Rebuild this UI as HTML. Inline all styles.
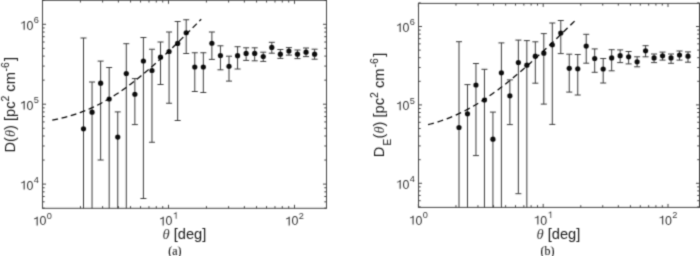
<!DOCTYPE html>
<html><head><meta charset="utf-8"><style>
html,body{margin:0;padding:0;background:#fff;width:700px;height:256px;overflow:hidden}
svg{display:block}
text{font-family:"Liberation Sans",sans-serif;fill:#1a1a1a}
</style></head><body>
<svg width="700" height="256" viewBox="0 0 700 256">
<defs><filter id="bl" filterUnits="userSpaceOnUse" x="0" y="0" width="700" height="256"><feConvolveMatrix order="3" kernelMatrix="1 4 1 4 16 4 1 4 1" edgeMode="duplicate"/></filter></defs>
<rect width="700" height="256" fill="#fff"/>
<g filter="url(#bl)">
<path d="M42.5 208.3v-3.5M42.5 0.3v3.5M80.43 208.3v-2.2M80.43 0.3v2.2M102.62 208.3v-2.2M102.62 0.3v2.2M118.36 208.3v-2.2M118.36 0.3v2.2M130.57 208.3v-2.2M130.57 0.3v2.2M140.55 208.3v-2.2M140.55 0.3v2.2M148.98 208.3v-2.2M148.98 0.3v2.2M156.29 208.3v-2.2M156.29 0.3v2.2M162.73 208.3v-2.2M162.73 0.3v2.2M168.5 208.3v-3.5M168.5 0.3v3.5M206.43 208.3v-2.2M206.43 0.3v2.2M228.62 208.3v-2.2M228.62 0.3v2.2M244.36 208.3v-2.2M244.36 0.3v2.2M256.57 208.3v-2.2M256.57 0.3v2.2M266.55 208.3v-2.2M266.55 0.3v2.2M274.98 208.3v-2.2M274.98 0.3v2.2M282.29 208.3v-2.2M282.29 0.3v2.2M288.73 208.3v-2.2M288.73 0.3v2.2M294.5 208.3v-3.5M294.5 0.3v3.5M42.5 208.15h2.2M326.5 208.15h-2.2M42.5 201.83h2.2M326.5 201.83h-2.2M42.5 196.48h2.2M326.5 196.48h-2.2M42.5 191.84h2.2M326.5 191.84h-2.2M42.5 187.76h2.2M326.5 187.76h-2.2M42.5 184.1h3.5M326.5 184.1h-3.5M42.5 160.05h2.2M326.5 160.05h-2.2M42.5 145.98h2.2M326.5 145.98h-2.2M42.5 136h2.2M326.5 136h-2.2M42.5 128.25h2.2M326.5 128.25h-2.2M42.5 121.93h2.2M326.5 121.93h-2.2M42.5 116.58h2.2M326.5 116.58h-2.2M42.5 111.94h2.2M326.5 111.94h-2.2M42.5 107.86h2.2M326.5 107.86h-2.2M42.5 104.2h3.5M326.5 104.2h-3.5M42.5 80.15h2.2M326.5 80.15h-2.2M42.5 66.08h2.2M326.5 66.08h-2.2M42.5 56.1h2.2M326.5 56.1h-2.2M42.5 48.35h2.2M326.5 48.35h-2.2M42.5 42.03h2.2M326.5 42.03h-2.2M42.5 36.68h2.2M326.5 36.68h-2.2M42.5 32.04h2.2M326.5 32.04h-2.2M42.5 27.96h2.2M326.5 27.96h-2.2M42.5 24.3h3.5M326.5 24.3h-3.5M42.5 0.25h2.2M326.5 0.25h-2.2" stroke="#444" stroke-width="1.0" fill="none"/>
<rect x="42.5" y="0.3" width="284" height="208" stroke="#444" stroke-width="1.0" fill="none"/>
<path d="M83.5 38V208.3M92.06 82V208.3M100.62 61.1V160M109.18 67.5V208.3M117.74 111.9V208.3M126.3 43.7V208.3M134.86 78.6V124.6M143.41 37.5V198.5M151.97 49.25V142.25M160.53 42V84.5M169.09 32V103.25M177.65 21.5V120.5M186.21 19.75V53.5M194.77 52.75V91.5M203.33 52.75V92.5M211.89 32V59.4M220.45 45.8V69.8M229.01 56.2V81.1M237.57 46.7V69M246.13 47.8V60.4M254.69 47.8V60.8M263.24 52.2V61.4M271.8 42.3V53.2M280.36 49.5V58.4M288.92 47.6V55.1M297.48 50V58.6M306.04 48V56.6M314.6 49.2V59.2M80.5 38h6.0M89.06 82h6.0M97.62 61.1h6.0M97.62 160h6.0M106.18 67.5h6.0M114.74 111.9h6.0M123.3 43.7h6.0M131.86 78.6h6.0M131.86 124.6h6.0M140.41 37.5h6.0M140.41 198.5h6.0M148.97 49.25h6.0M148.97 142.25h6.0M157.53 42h6.0M157.53 84.5h6.0M166.09 32h6.0M166.09 103.25h6.0M174.65 21.5h6.0M174.65 120.5h6.0M183.21 19.75h6.0M183.21 53.5h6.0M191.77 52.75h6.0M191.77 91.5h6.0M200.33 52.75h6.0M200.33 92.5h6.0M208.89 32h6.0M208.89 59.4h6.0M217.45 45.8h6.0M217.45 69.8h6.0M226.01 56.2h6.0M226.01 81.1h6.0M234.57 46.7h6.0M234.57 69h6.0M243.13 47.8h6.0M243.13 60.4h6.0M251.69 47.8h6.0M251.69 60.8h6.0M260.24 52.2h6.0M260.24 61.4h6.0M268.8 42.3h6.0M268.8 53.2h6.0M277.36 49.5h6.0M277.36 58.4h6.0M285.92 47.6h6.0M285.92 55.1h6.0M294.48 50h6.0M294.48 58.6h6.0M303.04 48h6.0M303.04 56.6h6.0M311.6 49.2h6.0M311.6 59.2h6.0" stroke="#3a3a3a" stroke-width="1.0" fill="none"/>
<g fill="#111"><circle cx="83.5" cy="128.8" r="2.6"/><circle cx="92.06" cy="112.2" r="2.6"/><circle cx="100.62" cy="83.2" r="2.6"/><circle cx="109.18" cy="99" r="2.6"/><circle cx="117.74" cy="137.1" r="2.6"/><circle cx="126.3" cy="73.6" r="2.6"/><circle cx="134.86" cy="94.25" r="2.6"/><circle cx="143.41" cy="61" r="2.6"/><circle cx="151.97" cy="70.5" r="2.6"/><circle cx="160.53" cy="57.2" r="2.6"/><circle cx="169.09" cy="51.5" r="2.6"/><circle cx="177.65" cy="43.4" r="2.6"/><circle cx="186.21" cy="32.75" r="2.6"/><circle cx="194.77" cy="67" r="2.6"/><circle cx="203.33" cy="67" r="2.6"/><circle cx="211.89" cy="43.25" r="2.6"/><circle cx="220.45" cy="55.6" r="2.6"/><circle cx="229.01" cy="66.3" r="2.6"/><circle cx="237.57" cy="55.7" r="2.6"/><circle cx="246.13" cy="53.4" r="2.6"/><circle cx="254.69" cy="53.4" r="2.6"/><circle cx="263.24" cy="56.5" r="2.6"/><circle cx="271.8" cy="47.4" r="2.6"/><circle cx="280.36" cy="54.2" r="2.6"/><circle cx="288.92" cy="51" r="2.6"/><circle cx="297.48" cy="54.2" r="2.6"/><circle cx="306.04" cy="52.2" r="2.6"/><circle cx="314.6" cy="54.2" r="2.6"/></g>
<polyline points="52.3,120.19 54.82,119.69 57.35,119.15 59.87,118.58 62.39,117.98 64.92,117.34 67.44,116.66 69.97,115.93 72.49,115.17 75.01,114.37 77.54,113.52 80.06,112.62 82.58,111.68 85.11,110.69 87.63,109.65 90.16,108.56 92.68,107.42 95.2,106.22 97.73,104.98 100.25,103.69 102.77,102.34 105.3,100.94 107.82,99.49 110.35,97.98 112.87,96.43 115.39,94.82 117.92,93.17 120.44,91.47 122.96,89.72 125.49,87.92 128.01,86.07 130.54,84.19 133.06,82.25 135.58,80.28 138.11,78.27 140.63,76.22 143.15,74.13 145.68,72.01 148.2,69.85 150.73,67.66 153.25,65.44 155.77,63.19 158.3,60.92 160.82,58.61 163.34,56.29 165.87,53.94 168.39,51.56 170.92,49.17 173.44,46.75 175.96,44.32 178.49,41.87 181.01,39.41 183.53,36.92 186.06,34.43 188.58,31.92 191.11,29.4 193.63,26.87 196.15,24.32 198.68,21.77 201.2,19.2" fill="none" stroke="#000" stroke-width="1.25" stroke-dasharray="5.9,3.59"/>
<polygon points="36.64,225.4 37.72,225.4 37.72,216.68 36.85,216.68 36.41,217.4 35.42,218.08 34.06,218.39 34.06,219.2 35.42,219.01 36.64,218.46" fill="#333"/>
<text x="39.59" y="225.4" font-size="12.4" style="fill:#333">0</text>
<text x="46.79" y="218.8" font-size="9.2" style="fill:#333">0</text>
<polygon points="162.64,225.4 163.72,225.4 163.72,216.68 162.85,216.68 162.41,217.4 161.42,218.08 160.06,218.39 160.06,219.2 161.42,219.01 162.64,218.46" fill="#333"/>
<text x="165.59" y="225.4" font-size="12.4" style="fill:#333">0</text>
<polygon points="175.71,218.8 176.51,218.8 176.51,212.33 175.87,212.33 175.55,212.87 174.81,213.37 173.8,213.6 173.8,214.2 174.81,214.06 175.71,213.65" fill="#333"/>
<polygon points="288.64,225.4 289.72,225.4 289.72,216.68 288.85,216.68 288.41,217.4 287.42,218.08 286.06,218.39 286.06,219.2 287.42,219.01 288.64,218.46" fill="#333"/>
<text x="291.59" y="225.4" font-size="12.4" style="fill:#333">0</text>
<text x="298.79" y="218.8" font-size="9.2" style="fill:#333">2</text>
<polygon points="23.63,189.5 24.71,189.5 24.71,180.78 23.84,180.78 23.41,181.5 22.42,182.18 21.05,182.49 21.05,183.3 22.42,183.11 23.63,182.56" fill="#333"/>
<text x="26.59" y="189.5" font-size="12.4" style="fill:#333">0</text>
<text x="33.78" y="182.9" font-size="9.2" style="fill:#333">4</text>
<polygon points="23.63,109.6 24.71,109.6 24.71,100.88 23.84,100.88 23.41,101.6 22.42,102.28 21.05,102.59 21.05,103.4 22.42,103.21 23.63,102.66" fill="#333"/>
<text x="26.59" y="109.6" font-size="12.4" style="fill:#333">0</text>
<text x="33.78" y="103" font-size="9.2" style="fill:#333">5</text>
<polygon points="23.63,29.7 24.71,29.7 24.71,20.98 23.84,20.98 23.41,21.7 22.42,22.38 21.05,22.69 21.05,23.5 22.42,23.31 23.63,22.76" fill="#333"/>
<text x="26.59" y="29.7" font-size="12.4" style="fill:#333">0</text>
<text x="33.78" y="23.1" font-size="9.2" style="fill:#333">6</text>
<path d="M418.4 207.4v-3.5M418.4 3.4v3.5M455.97 207.4v-2.2M455.97 3.4v2.2M477.94 207.4v-2.2M477.94 3.4v2.2M493.54 207.4v-2.2M493.54 3.4v2.2M505.63 207.4v-2.2M505.63 3.4v2.2M515.51 207.4v-2.2M515.51 3.4v2.2M523.87 207.4v-2.2M523.87 3.4v2.2M531.11 207.4v-2.2M531.11 3.4v2.2M537.49 207.4v-2.2M537.49 3.4v2.2M543.2 207.4v-3.5M543.2 3.4v3.5M580.77 207.4v-2.2M580.77 3.4v2.2M602.74 207.4v-2.2M602.74 3.4v2.2M618.34 207.4v-2.2M618.34 3.4v2.2M630.43 207.4v-2.2M630.43 3.4v2.2M640.31 207.4v-2.2M640.31 3.4v2.2M648.67 207.4v-2.2M648.67 3.4v2.2M655.91 207.4v-2.2M655.91 3.4v2.2M662.29 207.4v-2.2M662.29 3.4v2.2M668 207.4v-3.5M668 3.4v3.5M418.5 206.9h2.2M699.5 206.9h-2.2M418.5 200.69h2.2M699.5 200.69h-2.2M418.5 195.44h2.2M699.5 195.44h-2.2M418.5 190.9h2.2M699.5 190.9h-2.2M418.5 186.89h2.2M699.5 186.89h-2.2M418.5 183.3h3.5M699.5 183.3h-3.5M418.5 159.7h2.2M699.5 159.7h-2.2M418.5 145.89h2.2M699.5 145.89h-2.2M418.5 136.1h2.2M699.5 136.1h-2.2M418.5 128.5h2.2M699.5 128.5h-2.2M418.5 122.29h2.2M699.5 122.29h-2.2M418.5 117.04h2.2M699.5 117.04h-2.2M418.5 112.5h2.2M699.5 112.5h-2.2M418.5 108.49h2.2M699.5 108.49h-2.2M418.5 104.9h3.5M699.5 104.9h-3.5M418.5 81.3h2.2M699.5 81.3h-2.2M418.5 67.49h2.2M699.5 67.49h-2.2M418.5 57.7h2.2M699.5 57.7h-2.2M418.5 50.1h2.2M699.5 50.1h-2.2M418.5 43.89h2.2M699.5 43.89h-2.2M418.5 38.64h2.2M699.5 38.64h-2.2M418.5 34.1h2.2M699.5 34.1h-2.2M418.5 30.09h2.2M699.5 30.09h-2.2M418.5 26.5h3.5M699.5 26.5h-3.5M418.5 2.9h2.2M699.5 2.9h-2.2" stroke="#444" stroke-width="1.0" fill="none"/>
<rect x="418.5" y="3.4" width="281" height="204" stroke="#444" stroke-width="1.0" fill="none"/>
<path d="M459 41.7V207.4M467.48 84.6V207.4M475.96 63.5V155.6M484.44 69.3V207.4M492.93 112.1V207.4M501.41 42.9V207.4M509.89 79.9V124.6M518.37 40.1V193.7M526.85 40.6V207.4M535.33 41.8V83.2M543.81 33.6V104.1M552.3 23V124.4M560.78 20.5V53.6M569.26 54.2V92.1M577.74 54.5V95M586.22 34.3V63.2M594.7 48.9V72.3M603.19 58.5V83M611.67 49.7V70.8M620.15 49.9V62.6M628.63 51.5V63.9M637.11 56.8V66.8M645.59 45.7V56.8M654.07 54V62.6M662.56 52.1V60.1M671.04 54V63.3M679.52 51V60.1M688 51.9V62.2M456 41.7h6.0M464.48 84.6h6.0M472.96 63.5h6.0M472.96 155.6h6.0M481.44 69.3h6.0M489.93 112.1h6.0M498.41 42.9h6.0M506.89 79.9h6.0M506.89 124.6h6.0M515.37 40.1h6.0M515.37 193.7h6.0M523.85 40.6h6.0M532.33 41.8h6.0M532.33 83.2h6.0M540.81 33.6h6.0M540.81 104.1h6.0M549.3 23h6.0M549.3 124.4h6.0M557.78 20.5h6.0M557.78 53.6h6.0M566.26 54.2h6.0M566.26 92.1h6.0M574.74 54.5h6.0M574.74 95h6.0M583.22 34.3h6.0M583.22 63.2h6.0M591.7 48.9h6.0M591.7 72.3h6.0M600.19 58.5h6.0M600.19 83h6.0M608.67 49.7h6.0M608.67 70.8h6.0M617.15 49.9h6.0M617.15 62.6h6.0M625.63 51.5h6.0M625.63 63.9h6.0M634.11 56.8h6.0M634.11 66.8h6.0M642.59 45.7h6.0M642.59 56.8h6.0M651.07 54h6.0M651.07 62.6h6.0M659.56 52.1h6.0M659.56 60.1h6.0M668.04 54h6.0M668.04 63.3h6.0M676.52 51h6.0M676.52 60.1h6.0M685 51.9h6.0M685 62.2h6.0" stroke="#3a3a3a" stroke-width="1.0" fill="none"/>
<g fill="#111"><circle cx="459" cy="127.5" r="2.6"/><circle cx="467.48" cy="113.8" r="2.6"/><circle cx="475.96" cy="85" r="2.6"/><circle cx="484.44" cy="100" r="2.6"/><circle cx="492.93" cy="139.2" r="2.6"/><circle cx="501.41" cy="72.8" r="2.6"/><circle cx="509.89" cy="95.8" r="2.6"/><circle cx="518.37" cy="62.6" r="2.6"/><circle cx="526.85" cy="65.2" r="2.6"/><circle cx="535.33" cy="56.2" r="2.6"/><circle cx="543.81" cy="53.2" r="2.6"/><circle cx="552.3" cy="44.8" r="2.6"/><circle cx="560.78" cy="33.1" r="2.6"/><circle cx="569.26" cy="68.3" r="2.6"/><circle cx="577.74" cy="68.8" r="2.6"/><circle cx="586.22" cy="46.1" r="2.6"/><circle cx="594.7" cy="58.5" r="2.6"/><circle cx="603.19" cy="69" r="2.6"/><circle cx="611.67" cy="57.9" r="2.6"/><circle cx="620.15" cy="55.7" r="2.6"/><circle cx="628.63" cy="56.8" r="2.6"/><circle cx="637.11" cy="61.8" r="2.6"/><circle cx="645.59" cy="50.8" r="2.6"/><circle cx="654.07" cy="57.9" r="2.6"/><circle cx="662.56" cy="55.8" r="2.6"/><circle cx="671.04" cy="57.9" r="2.6"/><circle cx="679.52" cy="55.1" r="2.6"/><circle cx="688" cy="56.2" r="2.6"/></g>
<polyline points="428.1,124.67 430.59,124.01 433.08,123.32 435.56,122.59 438.05,121.81 440.54,121 443.03,120.15 445.52,119.25 448.01,118.31 450.49,117.33 452.98,116.3 455.47,115.22 457.96,114.1 460.45,112.93 462.93,111.72 465.42,110.45 467.91,109.14 470.4,107.78 472.89,106.38 475.37,104.93 477.86,103.43 480.35,101.89 482.84,100.3 485.33,98.67 487.82,97 490.3,95.28 492.79,93.53 495.28,91.73 497.77,89.9 500.26,88.03 502.74,86.12 505.23,84.18 507.72,82.2 510.21,80.2 512.7,78.16 515.18,76.09 517.67,74 520.16,71.88 522.65,69.73 525.14,67.56 527.63,65.37 530.11,63.16 532.6,60.93 535.09,58.67 537.58,56.4 540.07,54.11 542.55,51.81 545.04,49.49 547.53,47.16 550.02,44.81 552.51,42.45 554.99,40.08 557.48,37.7 559.97,35.31 562.46,32.9 564.95,30.49 567.44,28.07 569.92,25.65 572.41,23.21 574.9,20.77" fill="none" stroke="#000" stroke-width="1.25" stroke-dasharray="5.9,3.86"/>
<polygon points="412.54,224.5 413.62,224.5 413.62,215.78 412.75,215.78 412.31,216.5 411.32,217.18 409.96,217.49 409.96,218.3 411.32,218.11 412.54,217.56" fill="#333"/>
<text x="415.49" y="224.5" font-size="12.4" style="fill:#333">0</text>
<text x="422.69" y="217.9" font-size="9.2" style="fill:#333">0</text>
<polygon points="537.34,224.5 538.42,224.5 538.42,215.78 537.55,215.78 537.11,216.5 536.12,217.18 534.76,217.49 534.76,218.3 536.12,218.11 537.34,217.56" fill="#333"/>
<text x="540.29" y="224.5" font-size="12.4" style="fill:#333">0</text>
<polygon points="550.41,217.9 551.21,217.9 551.21,211.43 550.57,211.43 550.25,211.97 549.51,212.47 548.5,212.7 548.5,213.3 549.51,213.16 550.41,212.75" fill="#333"/>
<polygon points="662.14,224.5 663.22,224.5 663.22,215.78 662.35,215.78 661.91,216.5 660.92,217.18 659.56,217.49 659.56,218.3 660.92,218.11 662.14,217.56" fill="#333"/>
<text x="665.09" y="224.5" font-size="12.4" style="fill:#333">0</text>
<text x="672.29" y="217.9" font-size="9.2" style="fill:#333">2</text>
<polygon points="399.63,188.7 400.71,188.7 400.71,179.98 399.84,179.98 399.41,180.7 398.42,181.38 397.05,181.69 397.05,182.5 398.42,182.31 399.63,181.76" fill="#333"/>
<text x="402.59" y="188.7" font-size="12.4" style="fill:#333">0</text>
<text x="409.78" y="182.1" font-size="9.2" style="fill:#333">4</text>
<polygon points="399.63,110.3 400.71,110.3 400.71,101.58 399.84,101.58 399.41,102.3 398.42,102.98 397.05,103.29 397.05,104.1 398.42,103.91 399.63,103.36" fill="#333"/>
<text x="402.59" y="110.3" font-size="12.4" style="fill:#333">0</text>
<text x="409.78" y="103.7" font-size="9.2" style="fill:#333">5</text>
<polygon points="399.63,31.9 400.71,31.9 400.71,23.18 399.84,23.18 399.41,23.9 398.42,24.58 397.05,24.89 397.05,25.7 398.42,25.51 399.63,24.96" fill="#333"/>
<text x="402.59" y="31.9" font-size="12.4" style="fill:#333">0</text>
<text x="409.78" y="25.3" font-size="9.2" style="fill:#333">6</text>
<text x="162.5" y="238.5" font-size="14.6"><tspan style="font-family:'Liberation Serif';font-style:italic;fill:#3a3a3a">&#952;</tspan> [deg]</text>
<text x="536.5" y="238.5" font-size="14.6"><tspan style="font-family:'Liberation Serif';font-style:italic;fill:#3a3a3a">&#952;</tspan> [deg]</text>
<text x="168.2" y="254.9" style="font-family:'Liberation Serif';stroke:#000;stroke-width:0.08px" font-size="12">(a)</text>
<text x="540.6" y="254.9" style="font-family:'Liberation Serif';stroke:#000;stroke-width:0.08px" font-size="12">(b)</text>
<text transform="translate(15.3,152.5) rotate(-90)" font-size="14.6">D(<tspan style="font-family:'Liberation Serif';font-style:italic;fill:#3a3a3a">&#952;</tspan>) [pc<tspan dx="0" dy="-6" font-size="10.5">2</tspan><tspan dy="6"> cm</tspan><tspan dx="0.6" dy="-6" font-size="10.5">-6</tspan><tspan dx="1.3" dy="6">]</tspan></text>
<text transform="translate(383.6,157.3) rotate(-90)" font-size="14.6">D<tspan dx="1.2" dy="7.3" font-size="10.2">E</tspan><tspan dx="0.3" dy="-7.3">(</tspan><tspan style="font-family:'Liberation Serif';font-style:italic;fill:#3a3a3a">&#952;</tspan>) [pc<tspan dx="0" dy="-6" font-size="10.5">2</tspan><tspan dy="6"> cm</tspan><tspan dx="1.2" dy="-6" font-size="10.5">-6</tspan><tspan dx="1.5" dy="6">]</tspan></text>
</g>
</svg>
</body></html>
